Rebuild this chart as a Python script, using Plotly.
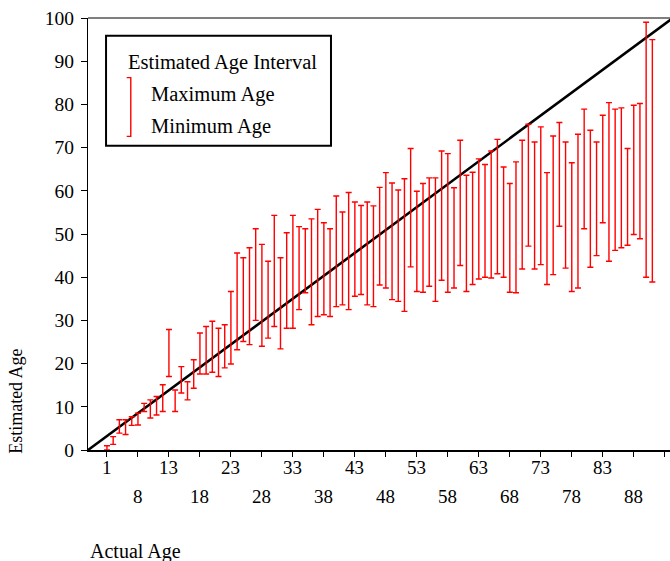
import plotly.graph_objects as go

# ---- data ----
actual_age = [1, 2, 3, 5, 6, 8, 9, 10, 11, 12, 13, 14, 15, 16, 17, 18, 19, 20, 21, 22,
              23, 24, 25, 26, 27, 28, 29, 30, 31, 32, 33, 34, 35, 36, 37, 38, 39, 40, 41, 42,
              43, 44, 45, 46, 47, 48, 49, 50, 51, 52, 53, 54, 55, 56, 57, 58, 59, 60, 61, 62,
              63, 64, 65, 66, 67, 68, 69, 70, 71, 72, 73, 74, 75, 76, 77, 78, 79, 80, 81, 82,
              83, 84, 85, 86, 87, 88, 89, 90, 91]
min_age = [0.0, 1.3, 3.9, 3.6, 5.7, 5.8, 8.9, 7.4, 8.1, 8.9, 17.0, 8.9, 13.2, 11.6, 14.3, 17.6, 17.6, 18.0, 17.0, 19.0,
           19.9, 23.2, 25.1, 24.4, 30.0, 24.0, 25.9, 28.6, 23.4, 28.2, 28.2, 32.5, 36.4, 29.0, 30.9, 31.3, 30.9, 33.2, 33.6, 32.5,
           35.6, 36.0, 33.6, 33.2, 38.2, 37.5, 34.8, 34.4, 32.1, 42.4, 36.7, 36.5, 37.9, 34.4, 39.3, 36.5, 37.5, 42.7, 36.7, 38.3,
           39.6, 40.0, 39.8, 40.8, 40.0, 36.5, 36.4, 41.9, 47.2, 41.9, 42.9, 38.3, 40.6, 51.8, 42.1, 36.7, 37.5, 51.2, 42.3, 45.0,
           52.6, 43.7, 46.2, 46.8, 47.4, 49.9, 48.9, 40.0, 38.9]
max_age = [1.0, 3.1, 7.0, 7.0, 7.7, 8.5, 10.8, 11.6, 12.4, 15.1, 27.9, 13.9, 19.3, 15.8, 20.9, 27.1, 28.6, 29.8, 28.2, 29.0,
           36.7, 45.6, 44.5, 46.8, 51.2, 47.6, 43.7, 54.3, 44.5, 50.3, 54.3, 51.7, 51.2, 53.5, 55.7, 52.6, 51.2, 58.8, 55.1, 59.6,
           57.4, 56.6, 57.4, 56.5, 60.8, 64.2, 61.8, 60.2, 62.8, 69.8, 59.9, 61.7, 63.0, 63.0, 69.2, 68.6, 60.7, 71.7, 63.6, 64.3,
           67.4, 66.1, 69.2, 71.9, 65.5, 61.7, 66.7, 71.7, 75.4, 71.3, 74.8, 64.2, 72.7, 75.8, 71.3, 66.5, 73.1, 78.9, 74.0, 71.3,
           77.5, 80.4, 78.9, 79.2, 69.8, 79.8, 80.2, 99.0, 95.0]

tick_labels_row1 = ["1", "13", "23", "33", "43", "53", "63", "73", "83"]
tick_labels_row2 = ["8", "18", "28", "38", "48", "58", "68", "78", "88"]
y_ticks = [0, 10, 20, 30, 40, 50, 60, 70, 80, 90, 100]

x_range = [-3.06, 90.85]
ref_line_x = [-3.06, 91.3]
ref_line_y = [0, 100]

FONT = "Liberation Serif"

# ---- derived ----
pos = list(range(len(actual_age)))
mid = [(a + b) / 2 for a, b in zip(min_age, max_age)]
half = [(b - a) / 2 for a, b in zip(min_age, max_age)]

row1_pos = [actual_age.index(int(t)) for t in tick_labels_row1]
row2_pos = [actual_age.index(int(t)) for t in tick_labels_row2]
all_tick_pos = sorted(row1_pos + row2_pos + [max(row2_pos) + 5])

fig = go.Figure()

fig.add_trace(go.Scatter(
    x=ref_line_x, y=ref_line_y, mode="lines",
    line=dict(color="black", width=2.6), hoverinfo="skip", showlegend=False))

fig.add_trace(go.Scatter(
    x=pos, y=mid, mode="markers",
    marker=dict(size=1, color="rgba(0,0,0,0)"),
    error_y=dict(type="data", symmetric=True, array=half,
                 color="#ff0000", thickness=1.4, width=3),
    showlegend=False))

annotations = []
for p, t in zip(row1_pos, tick_labels_row1):
    annotations.append(dict(x=p, y=-0.0394, xref="x", yref="paper", text=t,
                            showarrow=False, xanchor="center", yanchor="middle",
                            font=dict(family=FONT, size=19, color="black")))
for p, t in zip(row2_pos, tick_labels_row2):
    annotations.append(dict(x=p, y=-0.107, xref="x", yref="paper", text=t,
                            showarrow=False, xanchor="center", yanchor="middle",
                            font=dict(family=FONT, size=19, color="black")))

annotations += [
    dict(x=0, y=-0.234, xref="paper", yref="paper", text="Actual Age", showarrow=False,
         xanchor="left", yanchor="middle", font=dict(family=FONT, size=20, color="black")),
    dict(x=-0.125, y=0.112, xref="paper", yref="paper", text="Estimated Age", showarrow=False,
         textangle=-90, xanchor="center", yanchor="middle",
         font=dict(family=FONT, size=18, color="black")),
    dict(x=0.0648, y=0.8976, xref="paper", yref="paper", text="Estimated Age Interval",
         showarrow=False, xanchor="left", yanchor="middle",
         font=dict(family=FONT, size=20.5, color="black")),
    dict(x=0.1048, y=0.8227, xref="paper", yref="paper", text="Maximum Age",
         showarrow=False, xanchor="left", yanchor="middle",
         font=dict(family=FONT, size=20.5, color="black")),
    dict(x=0.1048, y=0.749, xref="paper", yref="paper", text="Minimum Age",
         showarrow=False, xanchor="left", yanchor="middle",
         font=dict(family=FONT, size=20.5, color="black")),
]

shapes = [
    dict(type="line", xref="paper", yref="paper", x0=0, x1=1, y0=1, y1=1,
         line=dict(color="#555555", width=1.5)),
    dict(type="rect", xref="paper", yref="paper", x0=0.031, x1=0.4175, y0=0.7045, y1=0.959,
         line=dict(color="black", width=2), fillcolor="rgba(0,0,0,0)"),
    dict(type="path", xref="paper", yref="paper",
         path="M 0.0665,0.862 L 0.0735,0.862 L 0.0735,0.726 L 0.0665,0.726",
         line=dict(color="#ff0000", width=1.4)),
]

fig.update_layout(
    width=670, height=561,
    margin=dict(l=88, r=0, t=18, b=111),
    plot_bgcolor="white", paper_bgcolor="white",
    font=dict(family=FONT, size=19, color="black"),
    showlegend=False,
    annotations=annotations,
    shapes=shapes,
    xaxis=dict(range=x_range, tickmode="array", tickvals=all_tick_pos,
               ticktext=["" for _ in all_tick_pos],
               ticks="outside", ticklen=5, tickcolor="black", tickwidth=1,
               showline=True, linecolor="black", linewidth=2,
               showgrid=False, zeroline=False),
    yaxis=dict(range=[0, 100], tickmode="array", tickvals=y_ticks,
               ticks="outside", ticklen=6, tickcolor="black", tickwidth=1,
               ticklabelstandoff=3,
               showline=True, linecolor="black", linewidth=1,
               showgrid=False, zeroline=False,
               tickfont=dict(family=FONT, size=19.5, color="black")),
)

fig.write_html("out.html",
               config={"displayModeBar": False},
               post_script="document.body.style.margin='0';document.body.style.overflow='hidden';")
